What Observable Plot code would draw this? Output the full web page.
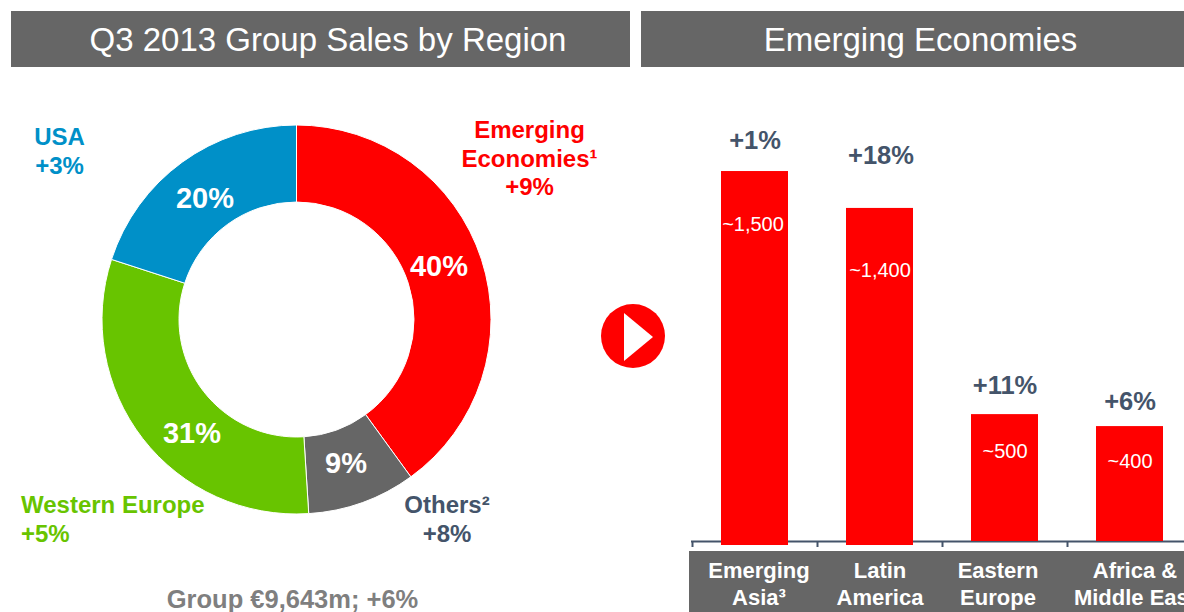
<!DOCTYPE html>
<html>
<head>
<meta charset="utf-8">
<script src="https://cdn.jsdelivr.net/npm/d3@7"></script>
<script src="https://cdn.jsdelivr.net/npm/@observablehq/plot@0.6"></script>
<style>
html,body{margin:0;padding:0;width:1184px;height:612px;overflow:hidden;background:#fff;font-family:"Liberation Sans",Arial,sans-serif}
.band{position:absolute;background:#666666;color:#fff;text-align:center;box-sizing:border-box}
.head{top:11px;height:56px;line-height:58px;font-size:33px}
#plot{position:absolute;left:0;top:0}
</style>
</head>
<body>
<div class="band head" style="left:11px;width:619px;padding-left:15px">Q3 2013 Group Sales by Region</div>
<div class="band head" style="left:641px;width:543px;padding-left:16px">Emerging Economies</div>
<div class="band" style="left:689px;top:551px;width:495px;height:61px"></div>
<div id="plot"></div>
<script>
// Donut: share of group sales
const regions = ["Emerging Economies", "Others", "Western Europe", "USA"];
const shares = [40, 9, 31, 20];
const regionColors = ["#ff0000", "#666666", "#68c400", "#0090c8"];

// Bars: emerging economies
const categories = ["Emerging\nAsia³", "Latin\nAmerica", "Eastern\nEurope", "Africa &\nMiddle East"];
const barTops = [1500, 1352, 525, 477];
const barBases = [0, 0, 16, 16];
const barLabels = ["~1,500", "~1,400", "~500", "~400"];
const growth = ["+1%", "+18%", "+11%", "+6%"];

const bars = categories.map((c, i) => ({cat: c, base: barBases[i], top: barTops[i]}));
const slate = "#44546a";
const sans = "Liberation Sans";

// free-standing annotation placed from the frame's corner
const note = (text, x, y, o = {}) => Plot.text([text], {
  text: d => d, frameAnchor: "top-left", dx: x, dy: y,
  textAnchor: "middle", lineAnchor: "middle", fontWeight: "bold", fontSize: 24, lineHeight: 1.19, ...o
});

// value label following a bar, pixel-offset from its top
const barNote = (i, text, dy, o = {}) => Plot.text([bars[i]], {
  x: "cat", y: "top", text: () => text, dy, lineAnchor: "middle", ...o
});

const donutCx = 296.5, donutCy = 319.5;
const donut = () => {
  const g = d3.create("svg:g").attr("transform", `translate(${donutCx},${donutCy})`);
  const pie = d3.pie().sort(null)(shares);
  const arc = d3.arc().innerRadius(117.5).outerRadius(194.5);
  g.selectAll("path").data(pie).join("path")
    .attr("d", arc)
    .attr("fill", (d, i) => regionColors[i])
    .attr("stroke", "#fff").attr("stroke-width", 1)
    .append("title").text((d, i) => regions[i]);
  return g.node();
};

const playArrow = () => {
  const g = d3.create("svg:g").attr("transform", "translate(633,336)");
  g.append("circle").attr("r", 32).attr("fill", "#ff0000");
  g.append("path").attr("d", "M-9,-23L20,1L-9,25Z").attr("fill", "#fff");
  return g.node();
};

const chart = Plot.plot({
  width: 1184, height: 612,
  marginTop: 0, marginRight: 0, marginBottom: 0, marginLeft: 0,
  style: {background: "transparent", fontFamily: sans, maxWidth: "none"},
  x: {type: "band", domain: categories, range: [692, 1192], paddingInner: 0.464, paddingOuter: 0.232, axis: null},
  y: {domain: [0, 2186], range: [545, 0], axis: null},
  marks: [
    Plot.ruleY([16], {insetLeft: 691, stroke: slate, strokeWidth: 2}),
    Plot.ruleX(categories, {x: d => d, y1: 16, y2: -8, dx: -62.5, stroke: slate, strokeWidth: 2}),
    Plot.barY(bars, {x: "cat", y1: "base", y2: "top", fill: "#ff0000"}),

    barNote(0, barLabels[0], 53, {fill: "#fff", fontSize: 20, dx: -2}),
    barNote(1, barLabels[1], 62, {fill: "#fff", fontSize: 20}),
    barNote(2, barLabels[2], 37, {fill: "#fff", fontSize: 20}),
    barNote(3, barLabels[3], 35, {fill: "#fff", fontSize: 20}),

    barNote(0, growth[0], -31, {fill: slate, fontSize: 25.5, fontWeight: "bold"}),
    barNote(1, growth[1], -53, {fill: slate, fontSize: 25.5, fontWeight: "bold", dx: 1}),
    barNote(2, growth[2], -29, {fill: slate, fontSize: 25.5, fontWeight: "bold"}),
    barNote(3, growth[3], -25, {fill: slate, fontSize: 25.5, fontWeight: "bold"}),

    ...categories.map((c, i) => Plot.text([c], {
      x: d => d, text: d => d, frameAnchor: "top", dy: 558.5,
      dx: [4, 0, -7, 5][i], lineAnchor: "top",
      fill: "#fff", fontWeight: "bold", fontSize: 22, lineHeight: 1.22
    })),

    donut,
    note(shares[0] + "%", 438.5, 264, {fill: "#fff", fontSize: 29}),
    note(shares[1] + "%", 345.5, 461, {fill: "#fff", fontSize: 29}),
    note(shares[2] + "%", 191.5, 431, {fill: "#fff", fontSize: 29}),
    note(shares[3] + "%", 204.5, 196, {fill: "#fff", fontSize: 29}),

    note("Emerging\nEconomies¹\n+9%", 529, 157, {fill: regionColors[0]}),
    note("USA\n+3%", 59, 150, {fill: regionColors[3]}),
    note("Western Europe\n+5%", 20.5, 518, {fill: regionColors[2], textAnchor: "start"}),
    note("Others²\n+8%", 446.5, 518, {fill: slate}),
    note("Group €9,643m; +6%", 292, 598, {fill: "#7f7f7f", fontSize: 25.5}),

    playArrow
  ]
});
document.getElementById("plot").append(chart);
</script>
</body>
</html>
